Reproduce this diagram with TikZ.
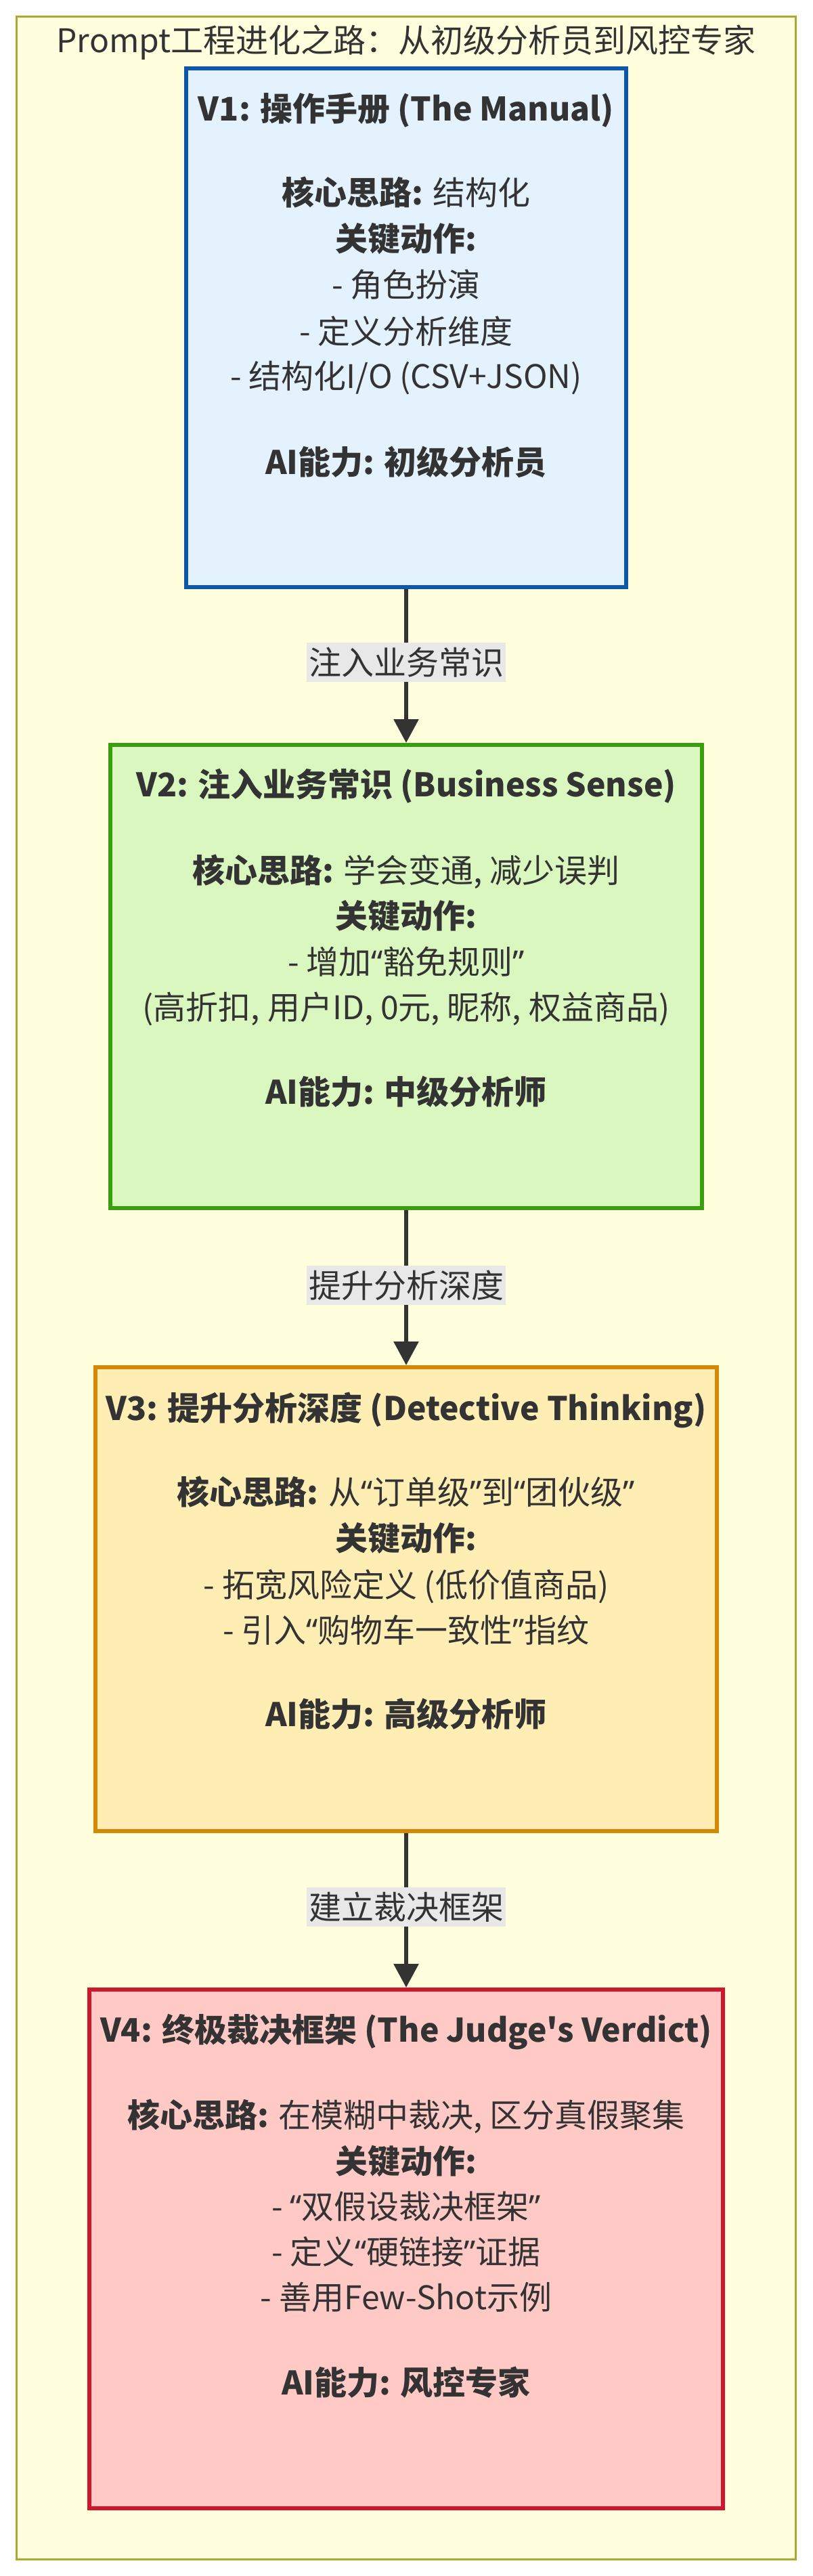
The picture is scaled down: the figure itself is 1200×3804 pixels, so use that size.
\documentclass[tikz,border=0pt]{standalone}
\usepackage{fontspec}
\setmainfont[Ligatures=TeXOff]{Noto Sans CJK SC}
\newfontfamily\qf[Ligatures=TeXOff]{Noto Sans}
\newcommand\oq{{\qf “}}
\newcommand\cq{{\qf ”}}
\usetikzlibrary{arrows.meta}
\definecolor{ink}{HTML}{333333}
\definecolor{frameln}{HTML}{AAAA33}
\definecolor{framebg}{HTML}{FFFFDE}
\definecolor{lblbg}{HTML}{E8E8E8}
\definecolor{blueln}{HTML}{0D57A6}
\definecolor{bluebg}{HTML}{E3F2FD}
\definecolor{greenln}{HTML}{3A9E10}
\definecolor{greenbg}{HTML}{D9F7BE}
\definecolor{goldln}{HTML}{D48806}
\definecolor{goldbg}{HTML}{FFEEB4}
\definecolor{redln}{HTML}{D0162A}
\definecolor{redbg}{HTML}{FFCAC6}
\tikzset{
  stagebox/.style={draw, line width=3pt, inner sep=0pt},
  ln/.style={anchor=base, inner sep=0pt, text=ink, font=\fontsize{24pt}{30pt}\selectfont},
  lnb/.style={ln, font=\fontsize{24pt}{30pt}\selectfont\bfseries},
  lbl/.style={fill=lblbg, text=ink, inner sep=0pt, minimum width=147pt, minimum height=29pt, font=\fontsize{24pt}{30pt}\selectfont},
  arr/.style={draw=ink, line width=3pt, -{Triangle[length=17.5pt,width=18pt]}},
}
\begin{document}
\begin{tikzpicture}[x=0.5pt,y=-0.5pt]
\useasboundingbox (0,0) rectangle (1200,3804);
% outer frame
\draw[draw=frameln, fill=framebg, line width=1.5pt] (24.5,24.5) rectangle (1175.5,3779.5);
\node[ln] (title) at (600,78) {Prompt工程进化之路：从初级分析员到风控专家};
% boxes
\node[stagebox, draw=blueln, fill=bluebg, minimum width=325pt, minimum height=383pt] (v1) at (600,484) {};
\node[stagebox, draw=greenln, fill=greenbg, minimum width=437pt, minimum height=342pt] (v2) at (600,1442) {};
\node[stagebox, draw=goldln, fill=goldbg, minimum width=459pt, minimum height=342.5pt] (v3) at (600,2361.5) {};
\node[stagebox, draw=redln, fill=redbg, minimum width=468pt, minimum height=383pt] (v4) at (600,3321) {};
% V1 text
\node[lnb] (v1a) at (600,179) {V1: 操作手册 (The Manual)};
\node[ln] (v1b) at (600,303) {\textbf{核心思路:} 结构化};
\node[lnb] (v1c) at (600,371) {关键动作:};
\node[ln] (v1d) at (600,439) {- 角色扮演};
\node[ln] (v1e) at (600,508) {- 定义分析维度};
\node[ln] (v1f) at (600,574) {- 结构化I/O (CSV+JSON)};
\node[lnb] (v1g) at (600,700) {AI能力: 初级分析员};
% V2 text
\node[lnb] (v2a) at (600,1176) {V2: 注入业务常识 (Business Sense)};
\node[ln] (v2b) at (600,1303) {\textbf{核心思路:} 学会变通, 减少误判};
\node[lnb] (v2c) at (600,1370) {关键动作:};
\node[ln] (v2d) at (600,1438) {- 增加\oq 豁免规则\cq};
\node[ln] (v2e) at (600,1505) {(高折扣, 用户ID, 0元, 昵称, 权益商品)};
\node[lnb] (v2f) at (600,1630) {AI能力: 中级分析师};
% V3 text
\node[lnb] (v3a) at (600,2097) {V3: 提升分析深度 (Detective Thinking)};
\node[ln] (v3b) at (600,2221) {\textbf{核心思路:} 从\oq 订单级\cq 到\oq 团伙级\cq};
\node[lnb] (v3c) at (600,2289) {关键动作:};
\node[ln] (v3d) at (600,2358) {- 拓宽风险定义 (低价值商品)};
\node[ln] (v3e) at (600,2425) {- 引入\oq 购物车一致性\cq 指纹};
\node[lnb] (v3f) at (600,2549) {AI能力: 高级分析师};
% V4 text
\node[lnb] (v4a) at (600,3015) {V4: 终极裁决框架 (The Judge's Verdict)};
\node[ln] (v4b) at (600,3141) {\textbf{核心思路:} 在模糊中裁决, 区分真假聚集};
\node[lnb] (v4c) at (600,3209) {关键动作:};
\node[ln] (v4d) at (600,3276) {- \oq 双假设裁决框架\cq};
\node[ln] (v4e) at (600,3343) {- 定义\oq 硬链接\cq 证据};
\node[ln] (v4f) at (600,3410) {- 善用Few-Shot示例};
\node[lnb] (v4g) at (600,3536) {AI能力: 风控专家};
% connectors
\draw[arr] (v1) -- node[lbl, pos=0.476] (l1) {注入业务常识} (v2);
\draw[arr] (v2) -- node[lbl, pos=0.485] (l2) {提升分析深度} (v3);
\draw[arr] (v3) -- node[lbl, pos=0.478] (l3) {建立裁决框架} (v4);
\end{tikzpicture}
\end{document}
